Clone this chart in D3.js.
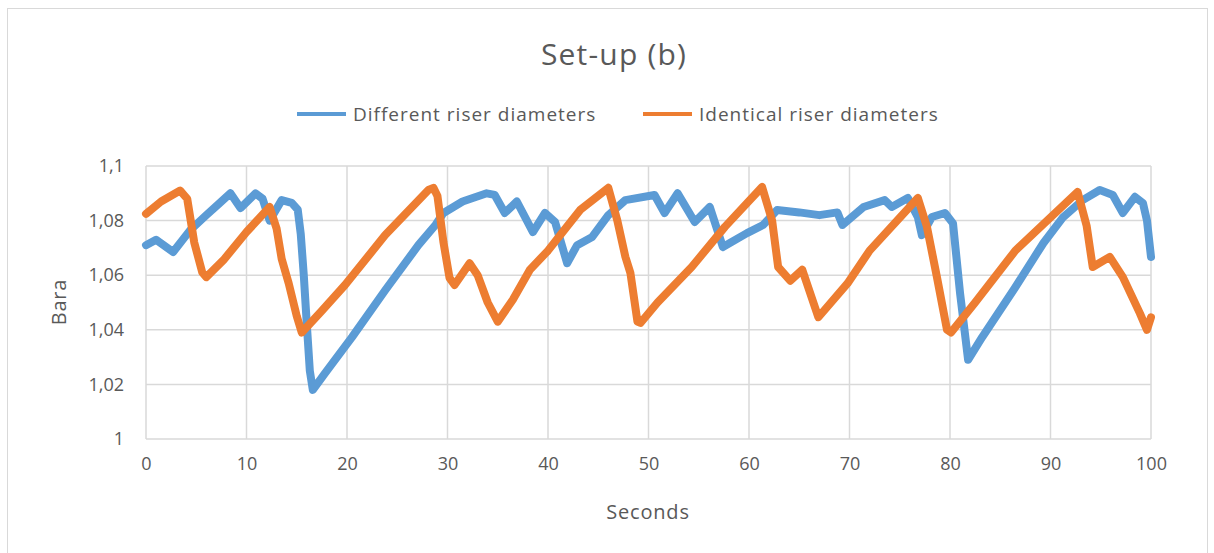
<!DOCTYPE html>
<html>
<head>
<meta charset="utf-8">
<script src="https://d3js.org/d3.v7.min.js"></script>
<style>
    body { margin: 0; background: #fff; font-family: "Open Sans", "Noto Sans", sans-serif; }
    svg text { fill: #595959; }
</style>
</head>
<body>
<svg id="svg"></svg>
<script>
    let visWidth = 1214;
    let visHeight = 553;

    // seconds / bara
    let diffSeconds = [0, 1, 2.7, 4.4, 6, 7.2, 8.4, 9.4, 10.9, 11.6, 12.3, 13.5, 14.5, 15.1, 15.4, 15.7, 16.0, 16.3, 16.6, 17.8, 20.5, 23.8, 27.1, 28.8, 29.6, 31.5, 33.9, 34.7, 35.7, 36.9, 38.5, 39.7, 40.7, 41.9, 42.9, 44.4, 46.0, 47.7, 50.6, 51.6, 52.9, 54.6, 56.1, 57.4, 59.8, 61.4, 62.8, 65, 67, 68.8, 69.3, 71.4, 73.5, 74.2, 75.8, 76.8, 77.2, 78.2, 79.5, 80.3, 81.0, 81.8, 83.2, 86.5, 89.3, 91.2, 93.2, 94.9, 96.2, 97.2, 98.4, 99.2, 99.6, 100];
    let diffBara = [1.071, 1.073, 1.0685, 1.0765, 1.082, 1.086, 1.090, 1.0846, 1.090, 1.088, 1.080, 1.0875, 1.0865, 1.084, 1.075, 1.060, 1.042, 1.025, 1.018, 1.024, 1.0373, 1.0545, 1.071, 1.0784, 1.0828, 1.087, 1.090, 1.0894, 1.0828, 1.087, 1.0758, 1.0828, 1.0795, 1.0644, 1.071, 1.074, 1.082, 1.0875, 1.0894, 1.0828, 1.090, 1.0795, 1.085, 1.0703, 1.0754, 1.0784, 1.0839, 1.083, 1.082, 1.083, 1.0784, 1.085, 1.0875, 1.085, 1.0883, 1.0813, 1.0747, 1.0813, 1.0828, 1.079, 1.0534, 1.029, 1.0373, 1.0556, 1.0718, 1.081, 1.0875, 1.0912, 1.0894, 1.0828, 1.0887, 1.0864, 1.080, 1.0667];

    let identSeconds = [0, 1.5, 3.4, 4.1, 4.8, 5.6, 6, 7.7, 10, 12.3, 13.0, 13.5, 14.2, 15.0, 15.5, 17.5, 19.8, 23.8, 28.1, 28.6, 29.0, 29.6, 30.2, 30.7, 32.2, 33.0, 34.0, 35.0, 36.5, 38.2, 40, 41.5, 43.2, 46.0, 46.9, 47.7, 48.2, 48.9, 49.2, 50.9, 54.3, 57.6, 61.3, 62.3, 62.9, 64.1, 65.3, 66.9, 69.8, 72, 76.8, 77.7, 78.7, 79.7, 80.1, 82.5, 86.5, 92.7, 93.6, 94.2, 95.9, 97.2, 98.9, 99.6, 100];
    let identBara = [1.0825, 1.087, 1.091, 1.088, 1.072, 1.061, 1.0593, 1.0655, 1.0758, 1.085, 1.077, 1.066, 1.057, 1.045, 1.039, 1.047, 1.0564, 1.0747, 1.0912, 1.092, 1.089, 1.072, 1.059, 1.0564, 1.0644, 1.060, 1.050, 1.043, 1.051, 1.062, 1.069, 1.076, 1.0839, 1.092, 1.080, 1.0667, 1.0608, 1.043, 1.0425, 1.050, 1.063, 1.0777, 1.0923, 1.080, 1.063, 1.058, 1.062, 1.0446, 1.057, 1.069, 1.0883, 1.0778, 1.0593, 1.040, 1.039, 1.050, 1.069, 1.0905, 1.078, 1.063, 1.0667, 1.0593, 1.046, 1.040, 1.0446];

    let xTicks = [0, 10, 20, 30, 40, 50, 60, 70, 80, 90, 100];
    let yTicks = [1, 1.02, 1.04, 1.06, 1.08, 1.1];
    let seriesNames = ['Different riser diameters', 'Identical riser diameters'];
    let seriesColors = ['#5b9bd5', '#ed7d31'];

    let svg = d3.select('#svg')
        .attr('width', visWidth)
        .attr('height', visHeight);

    svg.append('rect')
        .attr('width', visWidth).attr('height', visHeight)
        .attr('fill', '#fff');

    // chart frame
    svg.append('rect')
        .attr('x', 7.5).attr('y', 8.5)
        .attr('width', 1200).attr('height', 600)
        .attr('fill', 'none')
        .attr('stroke', '#d9d9d9');

    let plotLeft = 146, plotRight = 1151, plotTop = 166, plotBottom = 439;

    let xScale = d3.scaleLinear().domain([0, 100]).range([plotLeft, plotRight]);
    let yScale = d3.scaleLinear().domain([1, 1.1]).range([plotBottom, plotTop]);

    // gridlines
    svg.append('g')
        .selectAll('line')
        .data(xTicks)
        .enter()
        .append('line')
            .attr('x1', d => xScale(d)).attr('x2', d => xScale(d))
            .attr('y1', plotTop).attr('y2', plotBottom)
            .attr('stroke', '#d9d9d9').attr('stroke-width', 1.5);

    svg.append('g')
        .selectAll('line')
        .data(yTicks)
        .enter()
        .append('line')
            .attr('x1', plotLeft).attr('x2', plotRight)
            .attr('y1', d => yScale(d)).attr('y2', d => yScale(d))
            .attr('stroke', '#d9d9d9').attr('stroke-width', 1.5);

    // axes, labels only
    let fmt = d => d3.format('.2~f')(d).replace('.', ',');

    let xAxis = d3.axisBottom(xScale).tickValues(xTicks).tickSize(0).tickPadding(18);
    let yAxis = d3.axisLeft(yScale).tickValues(yTicks).tickSize(0).tickPadding(22).tickFormat(fmt);

    let xAxisGroup = svg.append('g')
        .attr('transform', `translate(0, ${plotBottom})`)
        .call(xAxis);
    let yAxisGroup = svg.append('g')
        .attr('transform', `translate(${plotLeft}, 0)`)
        .call(yAxis);

    [xAxisGroup, yAxisGroup].forEach(g => {
        g.select('.domain').remove();
        g.selectAll('text')
            .attr('font-size', '18px')
            .attr('font-family', '"Open Sans", sans-serif')
            .attr('fill', '#595959');
    });

    // series
    let line = d3.line()
        .x(d => xScale(d[0]))
        .y(d => yScale(d[1]));

    let diffData = diffSeconds.map((s, i) => [s, diffBara[i]]);
    let identData = identSeconds.map((s, i) => [s, identBara[i]]);

    [diffData, identData].forEach((data, i) => {
        svg.append('path')
            .datum(data)
            .attr('d', line)
            .attr('fill', 'none')
            .attr('stroke', seriesColors[i])
            .attr('stroke-width', 8)
            .attr('stroke-linejoin', 'round')
            .attr('stroke-linecap', 'round');
    });

    // title
    svg.append('text')
        .text('Set-up (b)')
        .attr('x', 614).attr('y', 65)
        .attr('text-anchor', 'middle')
        .attr('font-size', '30px')
        .attr('letter-spacing', '1.2px');

    // axis titles
    svg.append('text')
        .text('Seconds')
        .attr('x', 648).attr('y', 519)
        .attr('text-anchor', 'middle')
        .attr('font-size', '20px')
        .attr('letter-spacing', '0.8px');

    svg.append('text')
        .text('Bara')
        .attr('text-anchor', 'middle')
        .attr('font-size', '20px')
        .attr('letter-spacing', '0.8px')
        .attr('transform', 'translate(66, 302) rotate(-90)');

    // legend
    let legendX = [297, 643];
    seriesNames.forEach((name, i) => {
        let g = svg.append('g').attr('transform', `translate(${legendX[i]}, 114)`);
        g.append('line')
            .attr('x1', 0).attr('x2', 49)
            .attr('stroke', seriesColors[i])
            .attr('stroke-width', 4);
        g.append('text')
            .text(name)
            .attr('x', 56).attr('y', 7)
            .attr('font-size', '19px')
            .attr('letter-spacing', '1px');
    });
</script>
</body>
</html>
